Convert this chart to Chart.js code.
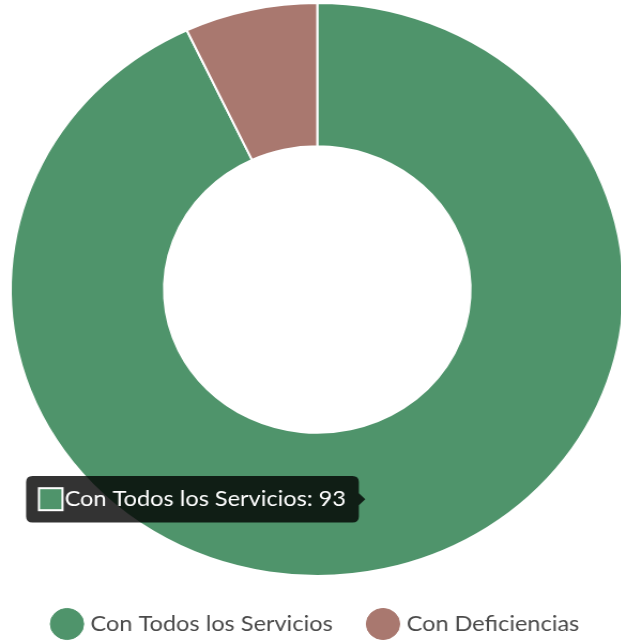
<!DOCTYPE html>
<html>
<head>
<meta charset="utf-8">
<script src="https://cdn.jsdelivr.net/npm/chart.js@4/dist/chart.umd.min.js"></script>
<style>
  html, body { margin: 0; padding: 0; background: #fff; overflow: hidden; width: 621px; height: 641px; }
  #wrap { position: absolute; left: 0; top: 0; width: 593px; height: 645px; transform: scaleX(1.07); transform-origin: 0 0; }
  #c { display: block; }
</style>
</head>
<body>
<div id="wrap"><canvas id="c" width="593" height="645"></canvas></div>
<script>
const categories = ['Con Todos los Servicios', 'Con Deficiencias'];
const values = [93, 7];
const colors = ['#4f946b', '#a9786f'];

const chart = new Chart(document.getElementById('c'), {
  type: 'doughnut',
  data: {
    labels: categories,
    datasets: [{ data: values, backgroundColor: colors, borderColor: '#fff', borderWidth: 2, hoverOffset: 0 }]
  },
  options: {
    responsive: false,
    devicePixelRatio: 1,
    animation: false,
    cutout: '50%',
    layout: { padding: { top: 2 } },
    plugins: {
      legend: {
        position: 'bottom',
        labels: {
          usePointStyle: true, pointStyle: 'circle', padding: 36, color: '#4a4a4a',
          font: { family: 'Lato', size: 22 },
          generateLabels: (ch) => Chart.controllers.doughnut.overrides.plugins.legend.labels.generateLabels(ch)
            .map(it => Object.assign(it, { strokeStyle: it.fillStyle, lineWidth: 1 }))
        }
      },
      tooltip: {
        backgroundColor: 'rgba(0,0,0,0.8)',
        bodyFont: { family: 'Lato', size: 22 },
        bodyColor: '#fff',
        padding: { top: 10, bottom: 10, left: 12, right: 12 },
        cornerRadius: 6,
        caretSize: 6,
        callbacks: { title: () => '', label: (ctx) => ctx.label + ': ' + ctx.formattedValue }
      }
    }
  }
});
chart.tooltip.setActiveElements([{ datasetIndex: 0, index: 0 }], { x: 340, y: 500 });
chart.update('none');
</script>
</body>
</html>
